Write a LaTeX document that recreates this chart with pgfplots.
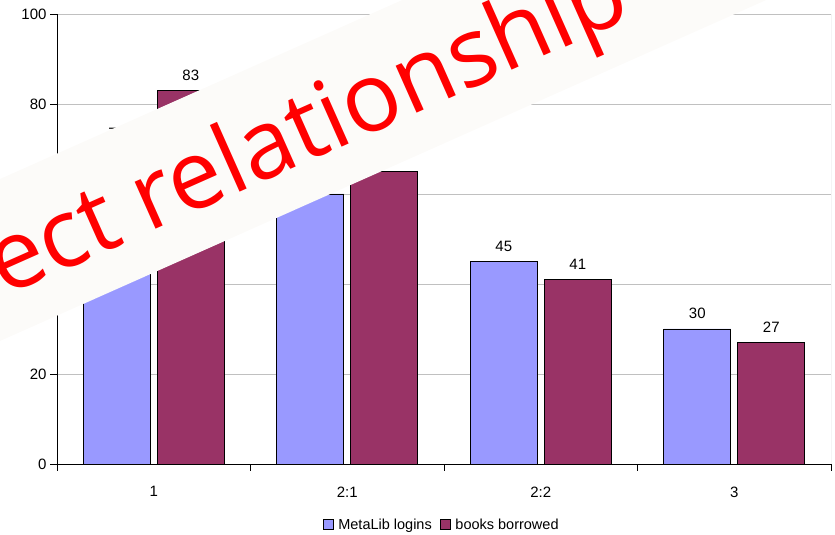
\documentclass[border=0pt]{standalone}
\usepackage{fontspec}
\setmainfont{Liberation Sans}
\newfontfamily\bannerfont{Open Sans}
\usepackage{pgfplots}
\pgfplotsset{compat=1.18}
\definecolor{cblue}{HTML}{9999FF}
\definecolor{cplum}{HTML}{993366}
\definecolor{bannerc}{HTML}{FCFBF9}
\definecolor{gridc}{HTML}{C0C0C0}
\pgfplotsset{
  /pgfplots/ybar legend/.style={
    /pgfplots/legend image code/.code={\draw[##1,draw=black,line width=0.6pt] (0pt,-4pt) rectangle (10pt,6pt); \path (13pt,0pt);}
  }
}
\begin{document}
\begin{tikzpicture}[x=1pt,y=1pt]
\useasboundingbox (0,0) rectangle (835,535);
\clip (0,0) rectangle (835,535);
\begin{axis}[
  at={(57pt,71pt)}, anchor=south west,
  scale only axis, width=774pt, height=450pt,
  ybar=7pt, bar width=67pt,
  xmin=-0.5, xmax=3.5, ymin=0, ymax=100,
  xtick={0,1,2,3}, xticklabels={1,2:1,2:2,3},
  ytick={0,20,40,60,80,100},
  axis x line*=bottom, axis y line*=left,
  ymajorgrids, grid style={gridc, line width=0.6pt},
  tick align=outside, major tick length=7pt,
  xtick style={draw=none},
  ytick style={black, line width=0.8pt},
  axis line style={black, line width=0.8pt},
  extra x ticks={-0.5,0.5,1.5,2.5,3.5}, extra x tick labels={},
  extra x tick style={xtick style={draw=black, line width=0.8pt}, grid=none},
  tick label style={font=\fontsize{15}{18}\selectfont},
  xticklabel style={yshift=-12pt},
  /pgf/number format/assume math mode=true,
  nodes near coords,
  nodes near coords style={font=\fontsize{15}{18}\selectfont, inner sep=0pt, anchor=south, yshift=10pt, black},
  legend style={at={(0.497,-0.136)}, anchor=center, draw=none, fill=none,
    font=\fontsize{14.5}{17}\selectfont, legend columns=2,
    /tikz/every even column/.append style={column sep=6pt}},
]
\addplot[fill=cblue, draw=black, line width=0.6pt] coordinates {(0,70) (1,60) (2,45) (3,30)};
\addplot[fill=cplum, draw=black, line width=0.6pt] coordinates {(0,83) (1,65) (2,41) (3,27)};
\legend{MetaLib logins, books borrowed}
\draw[gray!70, line width=0.6pt] (rel axis cs:1,0) -- (rel axis cs:1,1);
\end{axis}
\fill[bannerc] (-50,333.75) -- (900,756.5) -- (900,594.5) -- (-50,171.75) -- cycle;
\node[rotate=24, anchor=base west, inner sep=0pt, text=red, font=\bannerfont\fontsize{96}{104}\selectfont] at (4,238) {ect relationship};
\end{tikzpicture}
\end{document}
